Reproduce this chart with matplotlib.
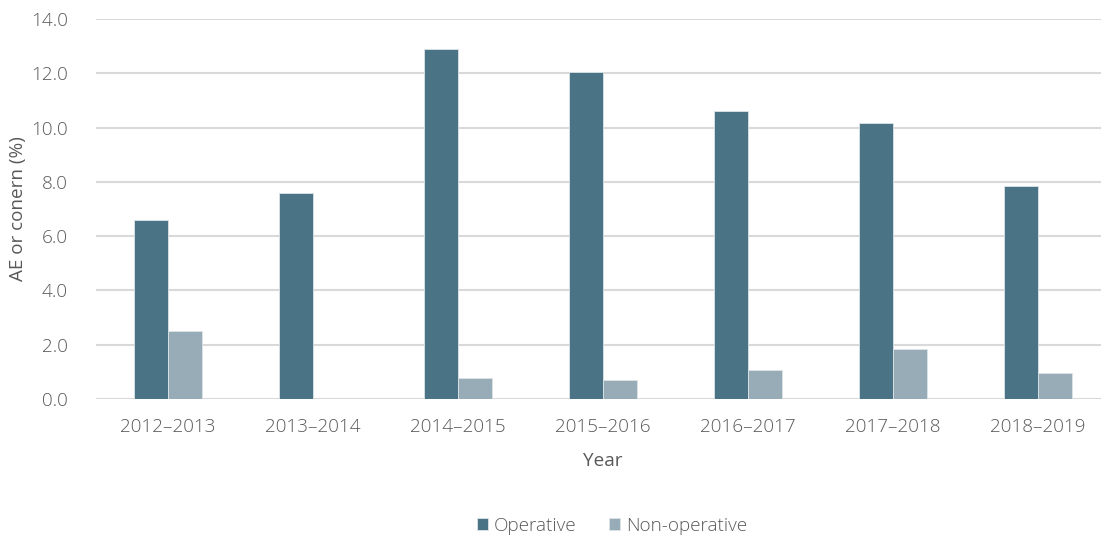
import matplotlib
matplotlib.use("Agg")
import matplotlib.pyplot as plt
import numpy as np

plt.rcParams['font.family'] = ['Open Sans', 'DejaVu Sans']
plt.rcParams['font.weight'] = 'light'

years = ["2012\u20132013", "2013\u20132014", "2014\u20132015", "2015\u20132016",
         "2016\u20132017", "2017\u20132018", "2018\u20132019"]
operative = [6.6, 7.6, 12.9, 12.05, 10.62, 10.18, 7.84]
non_operative = [2.5, 0.0, 0.77, 0.69, 1.06, 1.83, 0.96]
yticks = [0, 2, 4, 6, 8, 10, 12, 14]

c_op = "#4A7386"
c_nonop = "#97ACB7"
text_c = "#595959"
grid_c = "#D9D9D9"
fs = 13.6

W, H = 1101, 541
fig = plt.figure(figsize=(W / 100, H / 100), dpi=100)
ax = fig.add_axes([95.5 / W, 1 - 399 / H, 1015 / W, 380 / H])

x = np.arange(len(years))
bw = 0.237
ax.bar(x - bw / 2, operative, bw, color=c_op, edgecolor="#DCE4E8", linewidth=0.6,
       label="Operative", zorder=3)
ax.bar(x + bw / 2, non_operative, bw, color=c_nonop, edgecolor="#DCE4E8", linewidth=0.6,
       label="Non-operative", zorder=3)

ax.set_xlim(-0.5, len(years) - 0.5)
ax.set_ylim(0, 14)
ax.set_yticks(yticks)
ax.set_yticklabels([f"{v:.1f}" for v in yticks])
ax.set_xticks(x)
ax.set_xticklabels(years)

ax.yaxis.grid(True, color=grid_c, linewidth=1.5, zorder=0)
ax.set_axisbelow(True)
for s in ax.spines.values():
    s.set_visible(False)
ax.tick_params(axis="both", length=0, colors=text_c, labelsize=fs)
ax.tick_params(axis="y", pad=20)
ax.tick_params(axis="x", pad=14)

ax.set_xlabel("Year", color=text_c, fontsize=fs, labelpad=11)
ax.set_ylabel("AE or conern (%)", color=text_c, fontsize=fs)
ax.yaxis.set_label_coords(-(95.5 - 27) / 1015, 0.5)

leg = fig.legend(loc="center", bbox_to_anchor=(612 / W, 1 - 526 / H), ncol=2,
                 frameon=False, fontsize=fs, handlelength=0.6, handleheight=0.6,
                 handletextpad=0.3, columnspacing=1.7)
for t in leg.get_texts():
    t.set_color(text_c)

fig.savefig("out.png", dpi=100)
